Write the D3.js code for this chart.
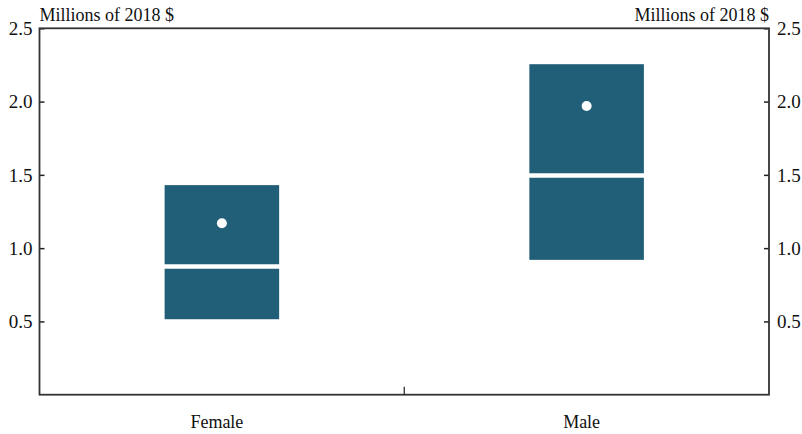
<!DOCTYPE html>
<html><head><meta charset="utf-8">
<script src="https://cdn.jsdelivr.net/npm/d3@7"></script>
<style>body{margin:0;background:#fff}svg{display:block}text{font-family:"Liberation Serif","DejaVu Serif",serif;fill:#111}</style>
</head><body><svg id="c" width="802" height="434"></svg>
<script>
const categories = ["Female", "Male"];
const q25 = [0.515, 0.92];
const median = [0.875, 1.495];
const q75 = [1.43, 2.255];
const mean = [1.17, 1.97];
const yTicks = [0.5, 1.0, 1.5, 2.0, 2.5];
const unitLabel = "Millions of 2018 $";

const svg = d3.select("#c");
const m = {l: 39.5, r: 769, t: 28.3, b: 394.7};
const x = d3.scaleBand().domain(categories).range([m.l, m.r]).paddingInner(0).paddingOuter(0);
const y = d3.scaleLinear().domain([0, 2.5]).range([m.b, m.t]);
const color = "#215e78";
const bw = x.bandwidth() * 0.314;

const data = categories.map((c, i) => ({c, q25: q25[i], med: median[i], q75: q75[i], mean: mean[i]}));

const g = svg.append("g");
g.selectAll("rect.box").data(data).enter().append("rect")
  .attr("x", d => x(d.c) + x.bandwidth()/2 - bw/2)
  .attr("width", bw)
  .attr("y", d => y(d.q75))
  .attr("height", d => y(d.q25) - y(d.q75))
  .attr("fill", color);
g.selectAll("line.med").data(data).enter().append("line")
  .attr("x1", d => x(d.c) + x.bandwidth()/2 - bw/2 - 1)
  .attr("x2", d => x(d.c) + x.bandwidth()/2 + bw/2 + 1)
  .attr("y1", d => y(d.med)).attr("y2", d => y(d.med))
  .attr("stroke", "#fff").attr("stroke-width", 4.5);
g.selectAll("circle").data(data).enter().append("circle")
  .attr("cx", d => x(d.c) + x.bandwidth()/2)
  .attr("cy", d => y(d.mean)).attr("r", 5).attr("fill", "#fff");

// axes
const left = svg.append("g").attr("transform", `translate(${m.l},0)`)
  .call(d3.axisRight(y).tickValues(yTicks).tickSize(5).tickFormat(""));
const right = svg.append("g").attr("transform", `translate(${m.r},0)`)
  .call(d3.axisLeft(y).tickValues(yTicks).tickSize(5).tickFormat(""));
[left, right].forEach(a => { a.select(".domain").remove(); a.selectAll("line").attr("stroke", "#222").attr("stroke-width", 1.5); });

svg.selectAll("text.yl").data(yTicks).enter().append("text")
  .attr("x", m.l - 7).attr("y", d => y(d)).attr("dy", "0.35em")
  .attr("text-anchor", "end").attr("font-size", 19).text(d => d.toFixed(1));
svg.selectAll("text.yr").data(yTicks).enter().append("text")
  .attr("x", m.r + 8).attr("y", d => y(d)).attr("dy", "0.35em")
  .attr("text-anchor", "start").attr("font-size", 19).text(d => d.toFixed(1));

// frame
svg.append("rect").attr("x", m.l).attr("y", m.t).attr("width", m.r - m.l).attr("height", m.b - m.t)
  .attr("fill", "none").attr("stroke", "#333").attr("stroke-width", 1.8);

// middle x tick
svg.append("line").attr("x1", x("Male")).attr("x2", x("Male")).attr("y1", m.b).attr("y2", m.b - 8)
  .attr("stroke", "#222").attr("stroke-width", 1.2);

svg.selectAll("text.xl").data(categories).enter().append("text")
  .attr("x", d => x(d) + x.bandwidth()/2 - 5).attr("y", 428)
  .attr("text-anchor", "middle").attr("font-size", 18).text(d => d);

svg.append("text").attr("x", m.l).attr("y", 21).attr("font-size", 18).text(unitLabel);
svg.append("text").attr("x", m.r).attr("y", 21).attr("text-anchor", "end").attr("font-size", 18).text(unitLabel);
</script></body></html>
